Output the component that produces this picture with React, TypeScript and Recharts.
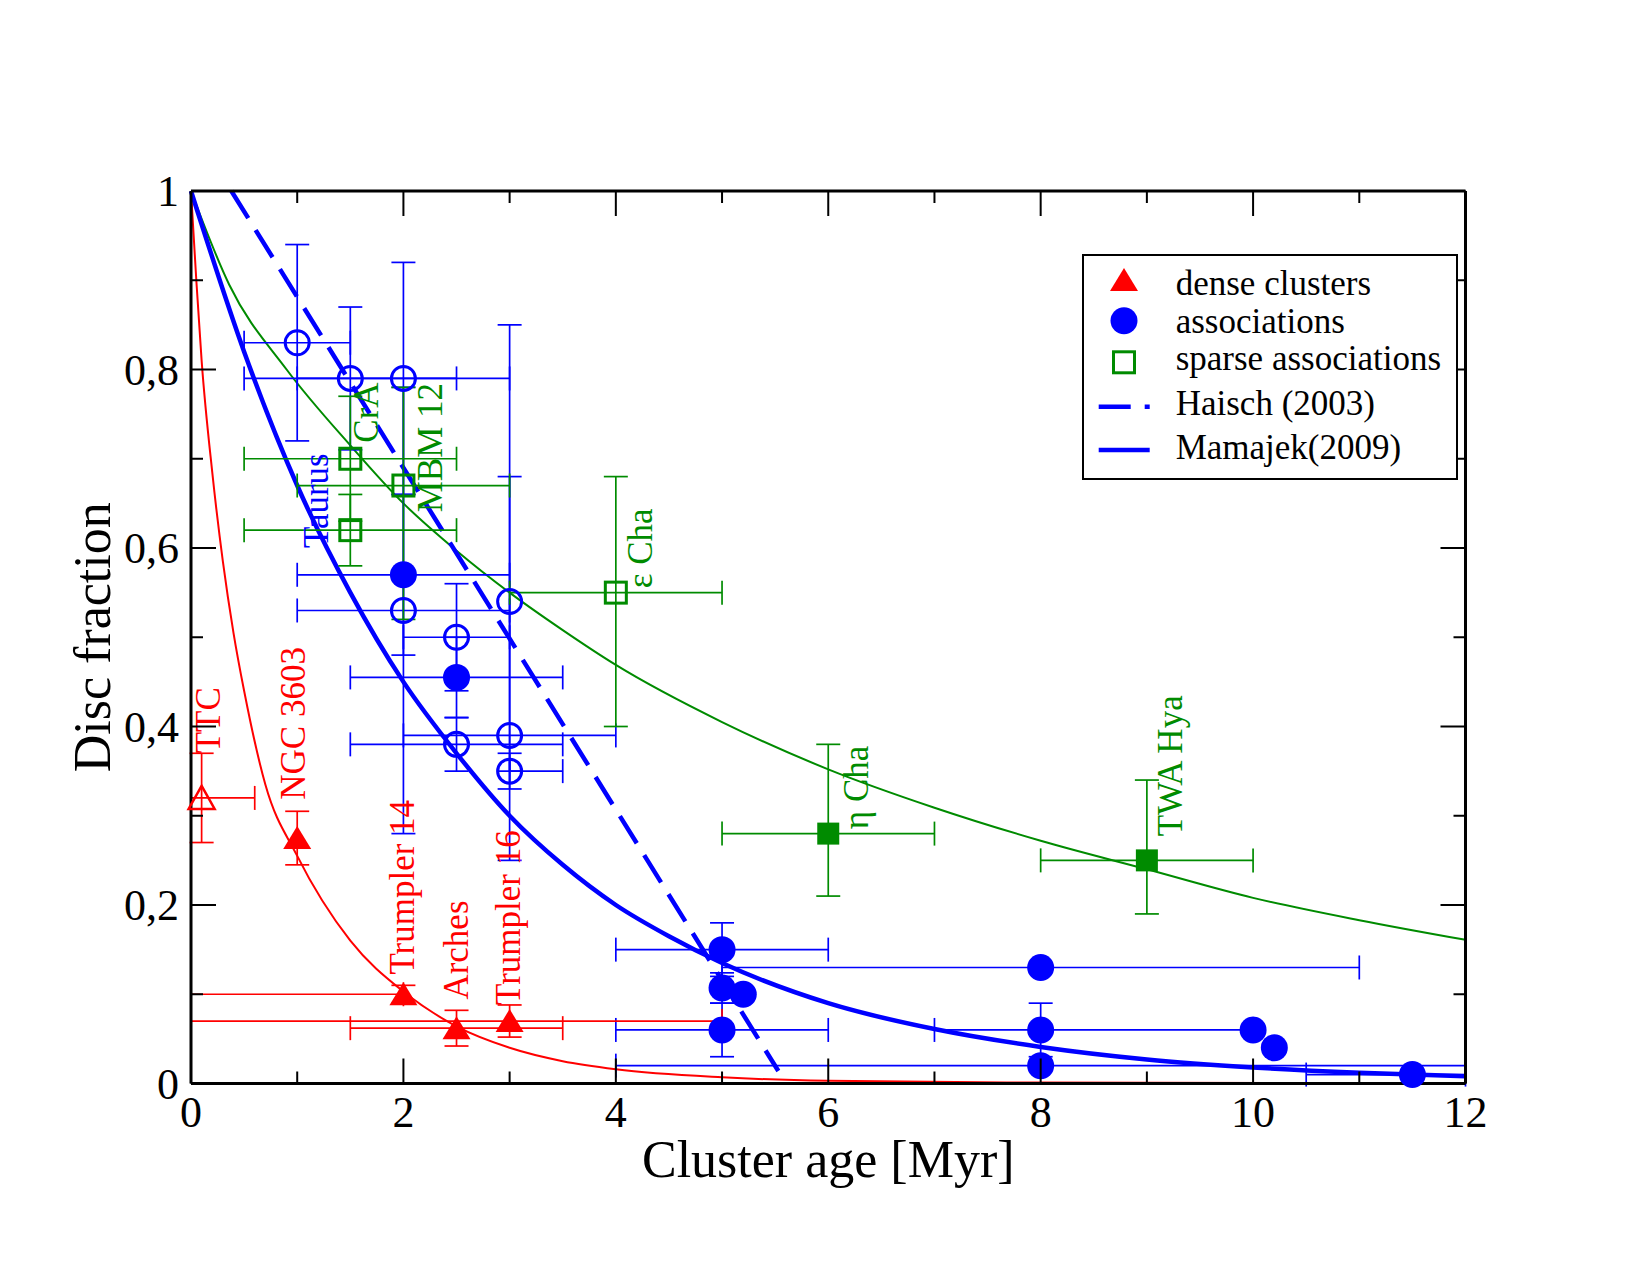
import {
  ComposedChart,
  ErrorBar,
  Legend,
  Line,
  Scatter,
  XAxis,
  YAxis,
} from "recharts";

const RED = "#ff0000";
const BLUE = "#0000ff";
const GREEN = "#008b00";
const SERIF = '"Liberation Serif", "Times New Roman", Times, serif';

const X_TICKS = [0, 1, 2, 3, 4, 5, 6, 7, 8, 9, 10, 11, 12];
const Y_TICKS = [0, 0.1, 0.2, 0.3, 0.4, 0.5, 0.6, 0.7, 0.8, 0.9, 1];

// dense clusters (filled triangles); ex / ey are [minus, plus] errors
const denseClusters = [
  { x: 1.0, y: 0.275, ey: [0.03, 0.03] }, // NGC 3603
  { x: 2.0, y: 0.1, ex: [2, 0], ey: [0.01, 0.01] }, // Trumpler 14
  { x: 2.5, y: 0.062, ex: [1, 1], ey: [0.02, 0.02] }, // Arches
  { x: 3.0, y: 0.07, ex: [3, 2], ey: [0.018, 0.018] }, // Trumpler 16
];
// TTC, open triangle
const denseClustersOpen = [{ x: 0.1, y: 0.32, ex: [0.1, 0.5], ey: [0.05, 0.05] }];

const associations = [
  { x: 2.0, y: 0.57, ex: [1, 1], ey: [0.09, 0.09] },
  { x: 2.5, y: 0.455, ex: [1, 1], ey: [0.045, 0.045] },
  { x: 5.0, y: 0.15, ex: [1, 1], ey: [0.03, 0.03] },
  { x: 5.0, y: 0.107, ey: [0.017, 0.017] },
  { x: 5.2, y: 0.1 },
  { x: 5.0, y: 0.06, ex: [1, 1], ey: [0.03, 0.03] },
  { x: 8.0, y: 0.13, ex: [3, 3] },
  { x: 8.0, y: 0.06, ex: [1, 2], ey: [0.03, 0.03] },
  { x: 8.0, y: 0.02, ex: [4, 4] },
  { x: 10.0, y: 0.06 },
  { x: 10.2, y: 0.04 },
  { x: 11.5, y: 0.01, ex: [1, 0.5] },
];
const associationsOpen = [
  { x: 1.0, y: 0.83, ex: [0.5, 0.5], ey: [0.11, 0.11] },
  { x: 1.5, y: 0.79, ex: [1, 1], ey: [0.08, 0.08] },
  { x: 2.0, y: 0.79, ex: [1, 1], ey: [0.13, 0.13] },
  { x: 2.0, y: 0.53, ex: [1, 1], ey: [0.25, 0.25] },
  { x: 2.5, y: 0.5, ex: [0.5, 0.5], ey: [0.06, 0.06] },
  { x: 2.5, y: 0.38, ex: [1, 1], ey: [0.03, 0.03] },
  { x: 3.0, y: 0.54, ey: [0.29, 0.31] },
  { x: 3.0, y: 0.39, ex: [1, 1], ey: [0.04, 0.29] },
  { x: 3.0, y: 0.35, ex: [0, 0.5], ey: [0.02, 0.02] },
];

const sparseAssociations = [
  { x: 6.0, y: 0.28, ex: [1, 1], ey: [0.07, 0.1] }, // eta Cha
  { x: 9.0, y: 0.25, ex: [1, 1], ey: [0.06, 0.09] }, // TWA Hya
];
const sparseAssociationsOpen = [
  { x: 1.5, y: 0.7, ex: [1, 1], ey: [0.07, 0.07] },
  { x: 1.5, y: 0.62, ex: [1, 1], ey: [0.04, 0.04] },
  { x: 2.0, y: 0.67, ex: [1, 1], ey: [0.15, 0.11] },
  { x: 4.0, y: 0.55, ex: [1, 1], ey: [0.15, 0.13] },
];

// fitted decay curves
const denseFit = [
  { x: 0, y: 1 }, { x: 0.05, y: 0.9 }, { x: 0.1, y: 0.81 }, { x: 0.2, y: 0.685 },
  { x: 0.3, y: 0.585 }, { x: 0.4, y: 0.505 }, { x: 0.5, y: 0.44 }, { x: 0.7, y: 0.335 },
  { x: 1, y: 0.255 }, { x: 1.5, y: 0.16 }, { x: 2, y: 0.103 }, { x: 2.5, y: 0.064 },
  { x: 3, y: 0.04 }, { x: 3.5, y: 0.025 }, { x: 4, y: 0.016 }, { x: 5, y: 0.007 },
  { x: 6, y: 0.003 }, { x: 8, y: 0.001 }, { x: 12, y: 0 },
];
const sparseFit = [
  { x: 0, y: 1 }, { x: 0.36, y: 0.895 }, { x: 0.9, y: 0.8 }, { x: 1.5, y: 0.715 },
  { x: 2, y: 0.65 }, { x: 2.5, y: 0.597 }, { x: 3, y: 0.55 }, { x: 3.5, y: 0.508 },
  { x: 4, y: 0.469 }, { x: 5, y: 0.405 }, { x: 6, y: 0.352 }, { x: 7, y: 0.309 },
  { x: 8, y: 0.272 }, { x: 9, y: 0.24 }, { x: 10, y: 0.208 }, { x: 11, y: 0.183 },
  { x: 12, y: 0.161 },
];
const haisch2003 = [
  { x: 0.38, y: 1.0 },
  { x: 5.53, y: 0.014 },
];
const mamajek2009 = [
  { x: 0, y: 1 }, { x: 0.5, y: 0.82 }, { x: 1, y: 0.67 }, { x: 1.5, y: 0.55 },
  { x: 2, y: 0.45 }, { x: 2.5, y: 0.37 }, { x: 3, y: 0.3 }, { x: 3.5, y: 0.245 },
  { x: 4, y: 0.2 }, { x: 4.5, y: 0.165 }, { x: 5, y: 0.135 }, { x: 6, y: 0.09 },
  { x: 7, y: 0.061 }, { x: 8, y: 0.041 }, { x: 9, y: 0.027 }, { x: 10, y: 0.018 },
  { x: 11, y: 0.012 }, { x: 12, y: 0.008 },
];

// cluster names, anchored at the start of the (vertical) text
const denseLabels = [
  { text: "TTC", x: 0.27, y: 0.37 },
  { text: "NGC 3603", x: 1.07, y: 0.318 },
  { text: "Trumpler 14", x: 2.1, y: 0.122 },
  { text: "Arches", x: 2.61, y: 0.094 },
  { text: "Trumpler 16", x: 3.1, y: 0.088 },
];
const associationLabels = [{ text: "Taurus", x: 1.29, y: 0.6 }];
const sparseLabels = [
  { text: "CrA", x: 1.76, y: 0.718 },
  { text: "MBM 12", x: 2.36, y: 0.64 },
  { text: "ε Cha", x: 4.34, y: 0.555 },
  { text: "η Cha", x: 6.37, y: 0.285 },
  { text: "TWA Hya", x: 9.33, y: 0.277 },
];

const MAJOR = 25;
const MINOR = 12;

const isMajorX = (v: number) => v % 2 === 0;
const isMajorY = (v: number) => Math.round(v * 10) % 2 === 0;
const fmtY = (v: number) => String(Math.round(v * 10) / 10).replace(".", ",");

function BottomTick(p: any) {
  const v = p.payload.value;
  const major = isMajorX(v);
  return (
    <g>
      <line x1={p.x} y1={p.y} x2={p.x} y2={p.y - (major ? MAJOR : MINOR)} stroke="#000" strokeWidth={2} />
      {major && (
        <text x={p.x} y={p.y + 43} textAnchor="middle" fontSize={44} fontFamily={SERIF} fill="#000">
          {v}
        </text>
      )}
    </g>
  );
}

function TopTick(p: any) {
  const major = isMajorX(p.payload.value);
  return <line x1={p.x} y1={p.y} x2={p.x} y2={p.y + (major ? MAJOR : MINOR)} stroke="#000" strokeWidth={2} />;
}

function LeftTick(p: any) {
  const v = p.payload.value;
  const major = isMajorY(v);
  return (
    <g>
      <line x1={p.x} y1={p.y} x2={p.x + (major ? MAJOR : MINOR)} y2={p.y} stroke="#000" strokeWidth={2} />
      {major && (
        <text x={p.x - 12} y={p.y + 15} textAnchor="end" fontSize={44} fontFamily={SERIF} fill="#000">
          {fmtY(v)}
        </text>
      )}
    </g>
  );
}

function RightTick(p: any) {
  const major = isMajorY(p.payload.value);
  return <line x1={p.x} y1={p.y} x2={p.x - (major ? MAJOR : MINOR)} y2={p.y} stroke="#000" strokeWidth={2} />;
}

const XTitle = (p: any) => {
  const vb = p.viewBox;
  return (
    <text x={vb.x + vb.width / 2} y={vb.y + 93.5} textAnchor="middle" fontSize={52} fontFamily={SERIF} fill="#000">
      Cluster age [Myr]
    </text>
  );
};

const YTitle = (p: any) => {
  const vb = p.viewBox;
  const x = vb.x + vb.width - 81;
  const y = vb.y + vb.height / 2;
  return (
    <text x={x} y={y} transform={`rotate(-90 ${x} ${y})`} textAnchor="middle" fontSize={52} fontFamily={SERIF} fill="#000">
      Disc fraction
    </text>
  );
};

// markers
const filledTriangle = (p: any) => (
  <polygon points={`${p.cx},${p.cy - 12} ${p.cx - 14},${p.cy + 11} ${p.cx + 14},${p.cy + 11}`} fill={RED} />
);
const openTriangle = (p: any) => (
  <polygon
    points={`${p.cx},${p.cy - 12} ${p.cx - 13},${p.cy + 11} ${p.cx + 13},${p.cy + 11}`}
    fill="none"
    stroke={RED}
    strokeWidth={2.5}
  />
);
const filledCircle = (p: any) => <circle cx={p.cx} cy={p.cy} r={13.5} fill={BLUE} />;
const openCircle = (p: any) => <circle cx={p.cx} cy={p.cy} r={12} fill="none" stroke={BLUE} strokeWidth={3} />;
const filledSquare = (p: any) => <rect x={p.cx - 11} y={p.cy - 11} width={22} height={22} fill={GREEN} />;
const openSquare = (p: any) => (
  <rect x={p.cx - 10.5} y={p.cy - 10.5} width={21} height={21} fill="none" stroke={GREEN} strokeWidth={3} />
);

const verticalLabel = (color: string) => (p: any) => (
  <text
    x={p.cx}
    y={p.cy}
    transform={`rotate(-90 ${p.cx} ${p.cy})`}
    fontSize={35}
    fontFamily={SERIF}
    fill={color}
  >
    {p.payload.text}
  </text>
);

function errorBars(color: string) {
  return [
    <ErrorBar key="ex" dataKey="ex" direction="x" width={12} stroke={color} strokeWidth={1.7} isAnimationActive={false} />,
    <ErrorBar key="ey" dataKey="ey" direction="y" width={12} stroke={color} strokeWidth={1.7} isAnimationActive={false} />,
  ];
}

function LegendBox() {
  const text = { fontSize: 35, fontFamily: SERIF, fill: "#000" };
  return (
    <svg width={376} height={226} style={{ display: "block" }}>
      <rect x={1} y={1} width={374} height={224} fill="#fff" stroke="#000" strokeWidth={2} />
      <polygon points="42,14 28,37 56,37" fill={RED} />
      <circle cx={42} cy={66.7} r={13.5} fill={BLUE} />
      <rect x={31.5} y={97.8} width={21} height={21} fill="none" stroke={GREEN} strokeWidth={3} />
      <line x1={16.7} y1={152.7} x2={67.7} y2={152.7} stroke={BLUE} strokeWidth={4.5} strokeDasharray="32 14" />
      <line x1={16.7} y1={196} x2={67.7} y2={196} stroke={BLUE} strokeWidth={4.5} />
      <text x={93.7} y={41} {...text}>dense clusters</text>
      <text x={93.7} y={78.7} {...text}>associations</text>
      <text x={93.7} y={116} {...text}>sparse associations</text>
      <text x={93.7} y={161} {...text}>Haisch (2003)</text>
      <text x={93.7} y={205.3} {...text}>Mamajek(2009)</text>
    </svg>
  );
}

export default function App() {
  return (
    <div style={{ position: "absolute", left: 0, top: 0, width: 1650, height: 1275, background: "#fff" }}>
      <ComposedChart
        width={1650}
        height={1275}
        margin={{ top: 190, right: 183.5, bottom: 71.5, left: 71 }}
        style={{ fontFamily: SERIF }}
      >
        <XAxis
          dataKey="x"
          type="number"
          domain={[0, 12]}
          ticks={X_TICKS}
          interval={0}
          height={120}
          tickSize={0}
          tickMargin={0}
          tickLine={false}
          tick={BottomTick}
          axisLine={{ stroke: "#000", strokeWidth: 3 }}
          label={{ content: XTitle }}
        />
        {/* top edge of the frame; 1px tall box so the axis is drawn */}
        <XAxis
          xAxisId="top"
          orientation="top"
          dataKey="x"
          type="number"
          domain={[0, 12]}
          ticks={X_TICKS}
          interval={0}
          height={1}
          tickSize={0}
          tickMargin={0}
          tickLine={false}
          tick={TopTick}
          axisLine={{ stroke: "#000", strokeWidth: 3 }}
        />
        <YAxis
          dataKey="y"
          type="number"
          domain={[0, 1]}
          ticks={Y_TICKS}
          interval={0}
          width={120}
          tickSize={0}
          tickMargin={0}
          tickLine={false}
          tick={LeftTick}
          axisLine={{ stroke: "#000", strokeWidth: 3 }}
          label={{ content: YTitle }}
        />
        {/* right edge of the frame */}
        <YAxis
          yAxisId="right"
          orientation="right"
          dataKey="y"
          type="number"
          domain={[0, 1]}
          ticks={Y_TICKS}
          interval={0}
          width={1}
          tickSize={0}
          tickMargin={0}
          tickLine={false}
          tick={RightTick}
          axisLine={{ stroke: "#000", strokeWidth: 3 }}
        />

        <Line data={denseFit} dataKey="y" type="monotone" stroke={RED} strokeWidth={2} dot={false} activeDot={false} isAnimationActive={false} legendType="none" />
        <Line data={sparseFit} dataKey="y" type="monotone" stroke={GREEN} strokeWidth={2} dot={false} activeDot={false} isAnimationActive={false} legendType="none" />
        <Line data={mamajek2009} dataKey="y" type="monotone" stroke={BLUE} strokeWidth={4.5} dot={false} activeDot={false} isAnimationActive={false} legendType="none" />
        <Line data={haisch2003} dataKey="y" type="linear" stroke={BLUE} strokeWidth={4.5} strokeDasharray="32 14" dot={false} activeDot={false} isAnimationActive={false} legendType="none" />

        <Scatter data={associationsOpen} shape={openCircle} isAnimationActive={false} legendType="none">
          {errorBars(BLUE)}
        </Scatter>
        <Scatter data={associations} shape={filledCircle} isAnimationActive={false} legendType="none">
          {errorBars(BLUE)}
        </Scatter>
        <Scatter data={sparseAssociationsOpen} shape={openSquare} isAnimationActive={false} legendType="none">
          {errorBars(GREEN)}
        </Scatter>
        <Scatter data={sparseAssociations} shape={filledSquare} isAnimationActive={false} legendType="none">
          {errorBars(GREEN)}
        </Scatter>
        <Scatter data={denseClustersOpen} shape={openTriangle} isAnimationActive={false} legendType="none">
          {errorBars(RED)}
        </Scatter>
        <Scatter data={denseClusters} shape={filledTriangle} isAnimationActive={false} legendType="none">
          {errorBars(RED)}
        </Scatter>

        {/* names are placed through the top/right axes (same domains) so those axes carry data */}
        <Scatter data={denseLabels} xAxisId="top" yAxisId="right" shape={verticalLabel(RED)} isAnimationActive={false} legendType="none" />
        <Scatter data={associationLabels} xAxisId="top" yAxisId="right" shape={verticalLabel(BLUE)} isAnimationActive={false} legendType="none" />
        <Scatter data={sparseLabels} xAxisId="top" yAxisId="right" shape={verticalLabel(GREEN)} isAnimationActive={false} legendType="none" />

        <Legend
          layout="vertical"
          align="center"
          verticalAlign="middle"
          content={() => <LegendBox />}
          wrapperStyle={{ left: 1082.3, top: 254, width: 376, height: 226 }}
        />
      </ComposedChart>
    </div>
  );
}
